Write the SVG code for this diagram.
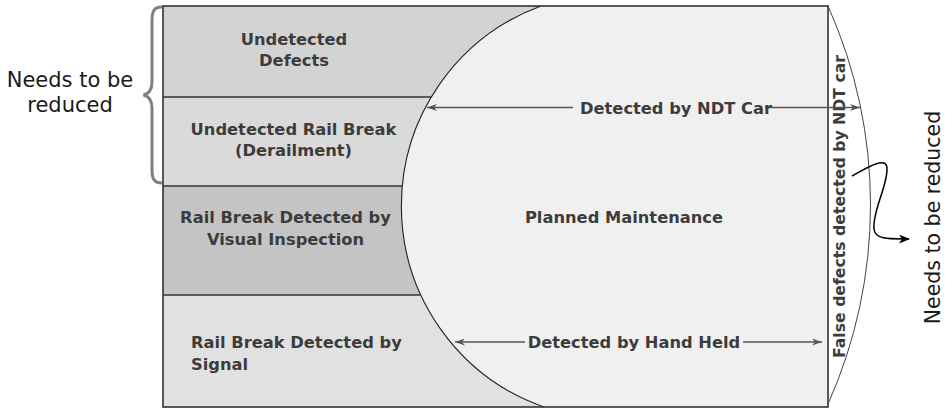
<svg xmlns="http://www.w3.org/2000/svg" width="946" height="410" viewBox="0 0 946 410">
<style>
.lbl{font-family:"DejaVu Sans","Verdana",sans-serif;font-weight:bold;font-size:16.3px;fill:#3c3c3c}
.note{font-family:"DejaVu Sans",sans-serif;font-size:21px;fill:#1a1a1a}
.div{stroke:#333;stroke-width:1.5}
.conn{stroke:#555;stroke-width:1.3;fill:none}
</style>
<defs>
<marker id="ah" viewBox="0 0 10 7" refX="10" refY="3.5" markerWidth="10" markerHeight="7" markerUnits="userSpaceOnUse" orient="auto">
<path d="M0,0 L10,3.5 L0,7 L3,3.5 Z" fill="#555"/>
</marker>
<marker id="ahb" viewBox="0 0 10 8" refX="9" refY="4" markerWidth="11" markerHeight="9" markerUnits="userSpaceOnUse" orient="auto">
<path d="M0,0 L10,4 L0,8 L2.5,4 Z" fill="#000"/>
</marker>
</defs>
<rect width="946" height="410" fill="#fff"/>
<g id="row1"><rect x="163" y="6" width="420" height="91" fill="#d3d3d3"/>
<text class="lbl" x="294" y="45" text-anchor="middle">Undetected</text>
<text class="lbl" x="294" y="66" text-anchor="middle">Defects</text></g>
<g id="row2"><rect x="163" y="97" width="420" height="89" fill="#dadada"/>
<text class="lbl" x="293.5" y="135" text-anchor="middle">Undetected Rail Break</text>
<text class="lbl" x="293.5" y="156" text-anchor="middle">(Derailment)</text></g>
<g id="row3"><rect x="163" y="186" width="420" height="109" fill="#c4c4c4"/>
<text class="lbl" x="285.5" y="223.3" text-anchor="middle">Rail Break Detected by</text>
<text class="lbl" x="285.5" y="245" text-anchor="middle">Visual Inspection</text></g>
<g id="row4"><rect x="163" y="295" width="420" height="112" fill="#e1e1e1"/>
<text class="lbl" x="191" y="348.3">Rail Break Detected by</text>
<text class="lbl" x="191" y="370">Signal</text></g>
<g id="dividers">
<line class="div" x1="163" y1="97" x2="431.5" y2="97"/>
<line class="div" x1="163" y1="186" x2="402" y2="186"/>
<line class="div" x1="163" y1="295" x2="420.5" y2="295"/>
</g>
<g id="planned">
<path d="M541,6 A213,213 0 0 0 544,407 L828,407 L828,6 Z" fill="#f0f0f0" stroke="none"/>
<path d="M541,6 A213,213 0 0 0 544,407" fill="none" stroke="#222" stroke-width="1.1"/>
<text class="lbl" x="624" y="223.3" text-anchor="middle">Planned Maintenance</text>
</g>
<g id="frame"><rect x="163" y="6" width="665" height="401" fill="none" stroke="#333" stroke-width="1.6"/></g>
<g id="falsedefects">
<path d="M828,6 A487,487 0 0 1 828,404" fill="none" stroke="#444" stroke-width="1"/>
<text class="lbl" style="font-size:15.7px" transform="translate(844.5,206.5) rotate(-90)" x="0" y="0" text-anchor="middle">False defects detected by NDT car</text>
</g>
<g id="note-left">
<text class="note" x="70" y="87" text-anchor="middle">Needs to be</text>
<text class="note" x="70" y="112" text-anchor="middle">reduced</text>
</g>
<g id="note-right">
<text class="note" style="font-size:20.5px" transform="translate(940,217.5) rotate(-90)" x="0" y="0" text-anchor="middle">Needs to be reduced</text>
</g>
<g id="connectors">
<line class="conn" x1="573" y1="107.5" x2="427" y2="107.5" marker-end="url(#ah)"/>
<line class="conn" x1="765" y1="107.5" x2="860" y2="107.5" marker-end="url(#ah)"/>
<text class="lbl" x="676" y="113.5" text-anchor="middle">Detected by NDT Car</text>
<line class="conn" x1="525" y1="342" x2="455" y2="342" marker-end="url(#ah)"/>
<line class="conn" x1="743" y1="342" x2="822" y2="342" marker-end="url(#ah)"/>
<text class="lbl" x="634" y="348.3" text-anchor="middle">Detected by Hand Held</text>
<path d="M162,7 C155,7 152,10 152,20 L152,82 C152,90 148,94 143.5,95 C148,96 152,100 152,108 L152,170 C152,180 155,183 162,183" fill="none" stroke="#808080" stroke-width="3"/>
<path d="M852,176 C868,167 886,156 887,168 C888,185 872,212 874,229 C875,240 890,239 909,239" fill="none" stroke="#000" stroke-width="1.5" marker-end="url(#ahb)"/>
</g>
</svg>
